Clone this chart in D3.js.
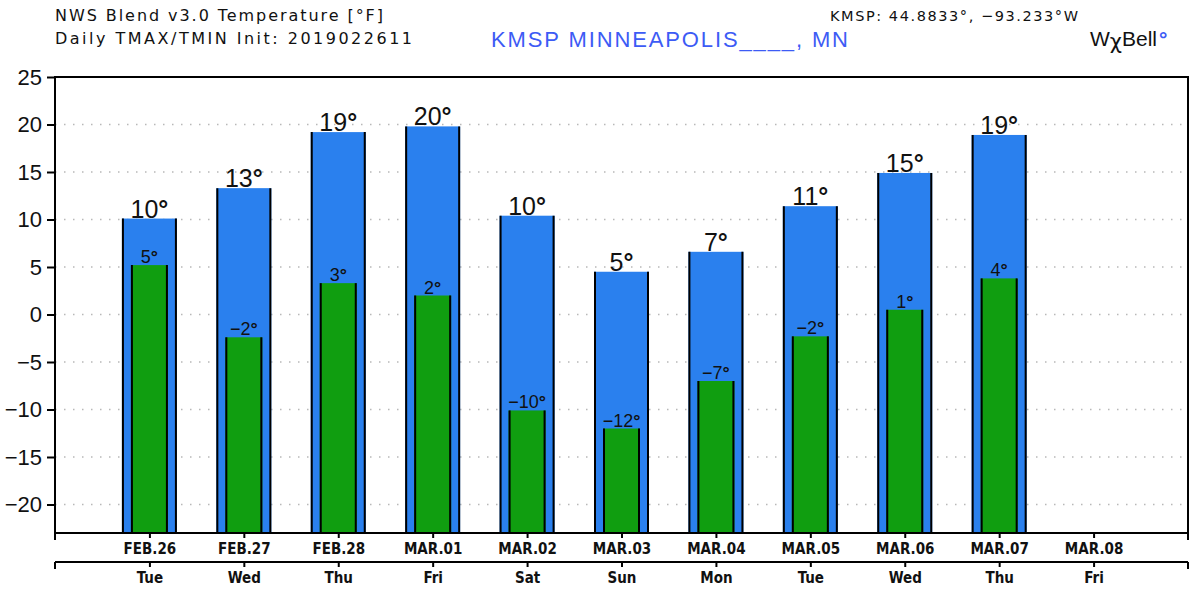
<!DOCTYPE html>
<html><head><meta charset="utf-8">
<script src="https://cdn.jsdelivr.net/npm/d3@7"></script>
<style>body{margin:0;background:#fff}svg{display:block}</style>
</head><body>
<svg id="c" width="1200" height="600"></svg>
<script>
const dates = ["FEB.26","FEB.27","FEB.28","MAR.01","MAR.02","MAR.03","MAR.04","MAR.05","MAR.06","MAR.07","MAR.08"];
const weekdays = ["Tue","Wed","Thu","Fri","Sat","Sun","Mon","Tue","Wed","Thu","Fri"];
const tmax = [10.1, 13.3, 19.2, 19.8, 10.4, 4.5, 6.6, 11.4, 14.9, 18.9];
const tmin = [5.2, -2.4, 3.3, 2.0, -10.1, -12.0, -7.0, -2.3, 0.5, 3.8];
const yTicks = [-20, -15, -10, -5, 0, 5, 10, 15, 20, 25];

const svg = d3.select("#c");
const L = 55, R = 1188, T = 77, B = 533;
const x = d3.scaleLinear().domain([-1, 11]).range([L, R]);
const y = d3.scaleLinear().domain([-23, 25]).range([B, T]);
const blue = "#2a80ee", green = "#109e10", titleBlue = "#3d5bf5";
const font = "'Liberation Sans', Arial, sans-serif";
const wide = "'DejaVu Sans', sans-serif";
const cond = "'DejaVu Sans Condensed', 'DejaVu Sans', sans-serif";

// grid
svg.append("g").selectAll("line").data(yTicks.filter(d => d < 25)).join("line")
  .attr("x1", L).attr("x2", R).attr("y1", d => y(d)).attr("y2", d => y(d))
  .attr("stroke", "#b8b8b8").attr("stroke-width", 1.5).attr("stroke-dasharray", "1.5,7.5");

const idx = d3.range(tmax.length);
const bw = 55, gw = 37;
function bars(vals, w, color) {
  const g = svg.append("g");
  g.selectAll("rect").data(idx).join("rect")
    .attr("x", i => x(i) - w/2).attr("width", w)
    .attr("y", i => y(vals[i])).attr("height", i => B - y(vals[i]))
    .attr("fill", color);
  idx.forEach(i => {
    [x(i) - w/2 + 1, x(i) + w/2 - 1].forEach(xx => {
      g.append("line").attr("x1", xx).attr("x2", xx).attr("y1", y(vals[i])).attr("y2", B)
        .attr("stroke", "#000").attr("stroke-width", 2);
    });
  });
}
bars(tmax, bw, blue);
bars(tmin, gw, green);

const num = v => { const r = Math.round(v); return r < 0 ? "\u2212" + (-r) : "" + r; };
function labels(vals, size, off) {
  const t = svg.append("g").selectAll("text").data(idx).join("text")
    .attr("x", i => x(i)).attr("y", i => y(vals[i]) - off)
    .attr("text-anchor", "middle").attr("font-family", font).attr("font-size", size)
    .attr("fill", "#111");
  t.append("tspan").text(i => num(vals[i]));
  t.append("tspan").text("°").attr("font-weight", "bold");
}
labels(tmax, 25, 1);
labels(tmin, 18, 2);

// frame
svg.append("rect").attr("x", L).attr("y", T).attr("width", R - L).attr("height", B - T)
  .attr("fill", "none").attr("stroke", "#000").attr("stroke-width", 2);

// y axis
const ya = svg.append("g").attr("transform", `translate(${L},0)`)
  .call(d3.axisLeft(y).tickValues(yTicks).tickSize(8).tickPadding(5)
    .tickFormat(d => d < 0 ? "\u2212" + (-d) : d));
ya.select(".domain").remove();
ya.selectAll("line").attr("stroke", "#000").attr("stroke-width", 2);
ya.selectAll("text").attr("font-family", font).attr("font-size", 22).attr("fill", "#111");

// x axes
const days = d3.range(dates.length);
function xaxis(yy, labelsArr, pad) {
  const g = svg.append("g").attr("transform", `translate(0,${yy})`)
    .call(d3.axisBottom(x).tickValues(days).tickSize(5).tickPadding(pad).tickFormat(i => labelsArr[i]));
  g.select(".domain").remove();
  g.selectAll("line").attr("stroke", "#000").attr("stroke-width", 2);
  g.selectAll("text").attr("font-family", cond)
    .attr("font-size", 15).attr("fill", "#111").attr("font-weight", "bold").attr("dy", "0.85em");
  [L, R].forEach(xx => svg.append("line").attr("x1", xx).attr("x2", xx).attr("y1", yy).attr("y2", yy + 7)
    .attr("stroke", "#000").attr("stroke-width", 2));
}
xaxis(B, dates, 3);
const B2 = 562;
svg.append("line").attr("x1", L).attr("x2", R).attr("y1", B2).attr("y2", B2).attr("stroke", "#000").attr("stroke-width", 2);
xaxis(B2, weekdays, 3);

// header
function htext(xx, yy, size, color, txt, len, fam) {
  return svg.append("text").attr("x", xx).attr("y", yy).attr("font-family", fam || wide)
    .attr("font-size", size).attr("fill", color)
    .attr("textLength", len).attr("lengthAdjust", "spacing").text(txt);
}
htext(55, 21, 16, "#111", "NWS Blend v3.0 Temperature [°F]", 328);
htext(55, 44, 16, "#111", "Daily TMAX/TMIN Init: 2019022611", 357);
htext(491, 47, 22, titleBlue, "KMSP MINNEAPOLIS____, MN", 357, font);
htext(830, 21, 14.5, "#111", "KMSP: 44.8833°, \u221293.233°W", 248);
const wx = svg.append("text").attr("x", 1090).attr("y", 46).attr("font-family", font).attr("font-size", 21).attr("fill", "#111");
wx.append("tspan").text("W");
wx.append("tspan").text("χ").attr("font-family", wide).attr("dy", 3);
wx.append("tspan").text("Bell").attr("dy", -3);
wx.append("tspan").text("°").attr("fill", titleBlue).attr("font-weight", "bold").attr("dx", 2);
</script>
</body></html>
